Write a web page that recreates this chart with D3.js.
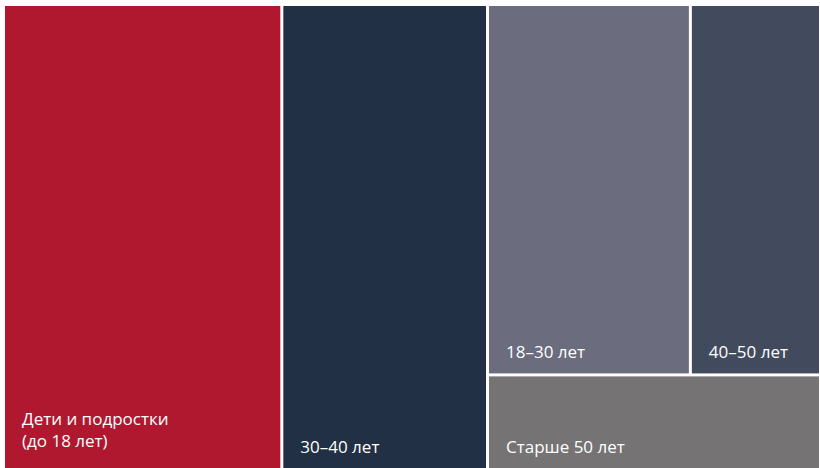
<!DOCTYPE html>
<html>
<head>
<meta charset="utf-8">
<script src="https://cdn.jsdelivr.net/npm/d3@7"></script>
<style>
  body { margin: 0; background: #fff; }
  text { font-family: "Open Sans", "Noto Sans", sans-serif; font-size: 17px; fill: #fff; }
</style>
</head>
<body>
<svg width="820" height="468"></svg>
<script>
// age groups, share of patients (%)
var labels = ["Дети и подростки\n(до 18 лет)", "30–40 лет", "18–30 лет", "40–50 лет", "Старше 50 лет"];
var values = [34.1, 25.2, 19.8, 12.7, 8.3];
var colors = ["#b0182f", "#213044", "#6b6c7e", "#424b5e", "#767374"];

var svg = d3.select("svg"),
    width = +svg.attr("width"),
    height = +svg.attr("height");

function leaf(i) {
    return { name: labels[i], value: values[i], color: colors[i] };
}

// root splits in columns, right column splits in rows, its top row in columns
var data = {
    children: [
        leaf(0),
        leaf(1),
        { children: [
            { children: [leaf(2), leaf(3)] },
            leaf(4)
        ] }
    ]
};

var root = d3.hierarchy(data)
    .sum(function (d) { return d.value || 0; });

d3.treemap()
    .tile(d3.treemapSliceDice)
    .size([width - 6, height - 6])
    .paddingInner(3)(root);

var g = svg.append("g").attr("transform", "translate(5,6)");

var cells = g.selectAll("g")
    .data(root.leaves())
    .enter()
    .append("g")
    .attr("transform", function (d) { return "translate(" + d.x0 + "," + d.y0 + ")"; });

cells.append("rect")
    .attr("width", function (d) { return d.x1 - d.x0; })
    .attr("height", function (d) { return d.y1 - d.y0; })
    .attr("fill", function (d) { return d.data.color; });

// label sits at bottom-left of each cell
var lineH = 22;
cells.append("text")
    .attr("x", 17)
    .attr("y", function (d) {
        var n = d.data.name.split("\n").length;
        return (d.y1 - d.y0) - 15 - (n - 1) * (lineH + 6);
    })
    .selectAll("tspan")
    .data(function (d) { return d.data.name.split("\n"); })
    .enter()
    .append("tspan")
    .attr("x", 17)
    .attr("dy", function (d, i) { return i ? lineH : 0; })
    .text(function (d) { return d; });
</script>
</body>
</html>
